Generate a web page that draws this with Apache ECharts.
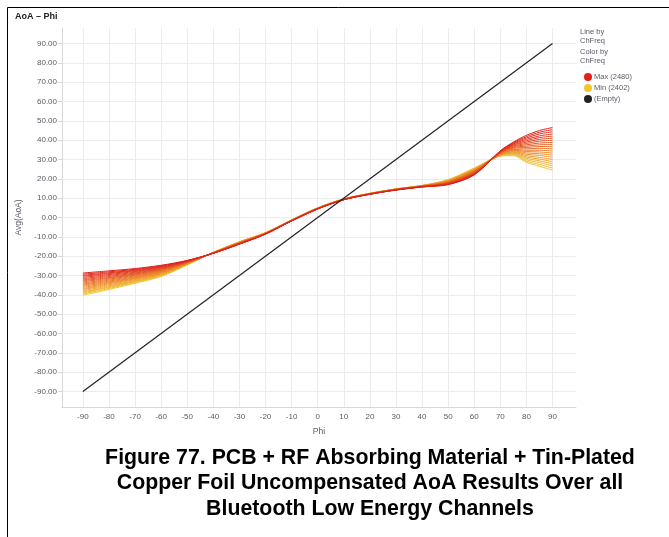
<!DOCTYPE html>
<html>
<head>
<meta charset="utf-8">
<script src="https://cdn.jsdelivr.net/npm/echarts@6/dist/echarts.min.js"></script>
<style>
  html, body { margin: 0; padding: 0; background: #fff; }
  #chart { width: 669px; height: 537px; }
</style>
</head>
<body>
<div id="chart"></div>
<script>
// Phi (deg) sample positions
const phi = [-90, -80, -70, -60, -50, -40, -30, -20, -10, 0, 10, 20, 30, 40, 50, 60, 70, 75, 80, 85, 90]
const ticks = [-90, -80, -70, -60, -50, -40, -30, -20, -10, 0, 10, 20, 30, 40, 50, 60, 70, 80, 90]

// BLE channel frequencies (MHz) and Avg(AoA)
const chFreq = [2402, 2406, 2410, 2414, 2418, 2422, 2426, 2430, 2434, 2438, 2442,
  2446, 2450, 2454, 2458, 2462, 2466, 2470, 2474, 2478, 2480]
const aoa = [
  [-40.2, -37.2, -34.0, -30.5, -24.5, -18.0, -12.5, -7.8, -1.2, 5.0, 9.6, 12.5, 14.8, 16.6, 19.6, 25.6, 31.8, 32.0, 28.5, 26.5, 24.5],
  [-39.6, -36.7, -33.6, -30.2, -24.4, -18.0, -12.6, -7.8, -1.2, 5.0, 9.6, 12.5, 14.8, 16.6, 19.5, 25.4, 31.9, 32.4, 29.2, 27.4, 25.6],
  [-39.0, -36.2, -33.2, -29.9, -24.3, -18.1, -12.6, -7.9, -1.3, 5.0, 9.6, 12.5, 14.7, 16.5, 19.3, 25.2, 32.1, 32.7, 29.9, 28.4, 26.7],
  [-38.5, -35.8, -32.9, -29.6, -24.2, -18.1, -12.7, -7.9, -1.3, 4.9, 9.5, 12.4, 14.7, 16.5, 19.2, 25.1, 32.2, 33.1, 30.6, 29.3, 27.8],
  [-37.9, -35.3, -32.5, -29.3, -24.0, -18.1, -12.8, -8.0, -1.3, 4.9, 9.5, 12.4, 14.7, 16.4, 19.1, 24.9, 32.3, 33.4, 31.3, 30.2, 28.9],
  [-37.3, -34.8, -32.1, -29.1, -23.9, -18.1, -12.8, -8.0, -1.4, 4.9, 9.5, 12.4, 14.7, 16.4, 18.9, 24.7, 32.5, 33.8, 32.0, 31.1, 30.0],
  [-36.8, -34.3, -31.7, -28.8, -23.8, -18.2, -12.9, -8.0, -1.4, 4.8, 9.5, 12.4, 14.6, 16.4, 18.8, 24.5, 32.6, 34.1, 32.7, 32.1, 31.1],
  [-36.2, -33.8, -31.3, -28.5, -23.7, -18.2, -13.0, -8.1, -1.4, 4.8, 9.5, 12.3, 14.6, 16.3, 18.7, 24.3, 32.7, 34.5, 33.4, 33.0, 32.2],
  [-35.6, -33.4, -31.0, -28.2, -23.6, -18.2, -13.0, -8.1, -1.4, 4.8, 9.4, 12.3, 14.6, 16.3, 18.6, 24.2, 32.9, 34.8, 34.1, 33.9, 33.3],
  [-35.0, -32.9, -30.6, -27.9, -23.5, -18.2, -13.1, -8.2, -1.5, 4.7, 9.4, 12.3, 14.5, 16.2, 18.4, 24.0, 33.0, 35.2, 34.8, 34.8, 34.4],
  [-34.5, -32.4, -30.2, -27.6, -23.4, -18.3, -13.2, -8.2, -1.5, 4.7, 9.4, 12.3, 14.5, 16.2, 18.3, 23.8, 33.2, 35.5, 35.5, 35.8, 35.5],
  [-33.9, -31.9, -29.8, -27.3, -23.2, -18.3, -13.2, -8.2, -1.5, 4.7, 9.4, 12.2, 14.5, 16.2, 18.2, 23.6, 33.3, 35.9, 36.2, 36.7, 36.6],
  [-33.3, -31.4, -29.4, -27.0, -23.1, -18.3, -13.3, -8.3, -1.5, 4.6, 9.4, 12.2, 14.4, 16.1, 18.0, 23.4, 33.4, 36.2, 36.9, 37.6, 37.7],
  [-32.7, -31.0, -29.1, -26.7, -23.0, -18.3, -13.3, -8.3, -1.6, 4.6, 9.3, 12.2, 14.4, 16.1, 17.9, 23.3, 33.6, 36.6, 37.6, 38.5, 38.8],
  [-32.2, -30.5, -28.7, -26.4, -22.9, -18.4, -13.4, -8.4, -1.6, 4.6, 9.3, 12.2, 14.4, 16.0, 17.8, 23.1, 33.7, 36.9, 38.3, 39.5, 39.9],
  [-31.6, -30.0, -28.3, -26.2, -22.8, -18.4, -13.5, -8.4, -1.6, 4.6, 9.3, 12.1, 14.4, 16.0, 17.6, 22.9, 33.8, 37.3, 39.0, 40.4, 41.0],
  [-31.0, -29.5, -27.9, -25.9, -22.7, -18.4, -13.5, -8.4, -1.7, 4.5, 9.3, 12.1, 14.3, 16.0, 17.5, 22.7, 34.0, 37.6, 39.7, 41.3, 42.1],
  [-30.4, -29.0, -27.5, -25.6, -22.5, -18.4, -13.6, -8.5, -1.7, 4.5, 9.3, 12.1, 14.3, 15.9, 17.4, 22.5, 34.1, 38.0, 40.4, 42.2, 43.2],
  [-29.9, -28.6, -27.2, -25.3, -22.4, -18.5, -13.7, -8.5, -1.7, 4.5, 9.2, 12.1, 14.3, 15.9, 17.3, 22.4, 34.2, 38.3, 41.1, 43.2, 44.3],
  [-29.3, -28.1, -26.8, -25.0, -22.3, -18.5, -13.7, -8.6, -1.8, 4.4, 9.2, 12.0, 14.2, 15.8, 17.1, 22.2, 34.4, 38.7, 41.8, 44.1, 45.4],
  [-28.7, -27.6, -26.4, -24.7, -22.2, -18.5, -13.8, -8.6, -1.8, 4.4, 9.2, 12.0, 14.2, 15.8, 17.0, 22.0, 34.5, 39.0, 42.5, 45.0, 46.5],
]
// reference line (Empty): AoA = Phi
const refLine = [-90, 90]

const YELLOW = [242, 198, 47]
const RED = [224, 32, 28]
function chColor(f) {
  const t = (f - chFreq[0]) / (chFreq[chFreq.length - 1] - chFreq[0])
  const c = YELLOW.map((y, i) => Math.round(y + (RED[i] - y) * t))
  return `rgb(${c[0]},${c[1]},${c[2]})`
}

const minF = chFreq[0]
const maxF = chFreq[chFreq.length - 1]

const series = chFreq.map((f, k) => ({
  name: f === maxF ? `Max (${f})` : f === minF ? `Min (${f})` : String(f),
  type: 'line',
  data: phi.map((p, i) => [p, aoa[k][i]]),
  showSymbol: false,
  smooth: 0.3,
  lineStyle: { width: 1, color: chColor(f) },
  itemStyle: { color: chColor(f) },
  z: 2 + k,
  silent: true,
}))
series.push({
  name: '(Empty)',
  type: 'line',
  data: refLine.map((v) => [v, v]),
  showSymbol: false,
  lineStyle: { width: 1.2, color: '#222' },
  itemStyle: { color: '#222' },
  z: 40,
  silent: true,
})

const axisText = { color: '#5a5a66', fontSize: 8, fontFamily: 'Arial, Liberation Sans' }

const option = {
  animation: false,
  backgroundColor: '#fff',
  grid: { left: 62, right: 93, top: 28, bottom: 130 },
  xAxis: {
    type: 'value',
    min: -98,
    max: 99,
    name: 'Phi',
    nameLocation: 'middle',
    nameGap: 20,
    nameTextStyle: { ...axisText, fontSize: 8.5 },
    axisLine: { show: true, onZero: false, lineStyle: { color: '#d8d8d8' } },
    axisTick: { show: false, customValues: ticks },
    axisLabel: { ...axisText, margin: 6, customValues: ticks },
    splitLine: { show: true, lineStyle: { color: '#ececec' } },
  },
  yAxis: {
    type: 'value',
    min: -98,
    max: 98,
    name: 'Avg(AoA)',
    nameLocation: 'middle',
    nameGap: 37,
    nameTextStyle: { ...axisText, fontSize: 8.5 },
    axisLine: { show: true, onZero: false, lineStyle: { color: '#d8d8d8' } },
    axisTick: { show: true, length: 4, lineStyle: { color: '#d8d8d8' }, customValues: ticks },
    axisLabel: { ...axisText, margin: 5, customValues: ticks, formatter: (v) => v.toFixed(2) },
    splitLine: { show: true, lineStyle: { color: '#ececec' } },
  },
  legend: {
    data: [`Max (${maxF})`, `Min (${minF})`, '(Empty)'],
    orient: 'vertical',
    left: 579,
    top: 68,
    icon: 'circle',
    itemWidth: 8,
    itemHeight: 8,
    itemGap: 3,
    textStyle: { ...axisText, fontSize: 7.5, padding: [0, 0, 0, -3] },
    selectedMode: false,
  },
  graphic: [
    { type: 'line', shape: { x1: 7.5, y1: 7.5, x2: 669, y2: 7.5 }, style: { stroke: '#000', lineWidth: 1 } },
    { type: 'line', shape: { x1: 7.5, y1: 7.5, x2: 7.5, y2: 537 }, style: { stroke: '#000', lineWidth: 1 } },
    { type: 'text', left: 15, top: 12, style: { text: 'AoA – Phi', font: 'bold 9px Arial, Liberation Sans', fill: '#222' } },
    { type: 'text', left: 580, top: 27, style: { text: 'Line by\nChFreq', font: '7.5px Arial, Liberation Sans', fill: '#5a5a66', lineHeight: 9 } },
    { type: 'text', left: 580, top: 47, style: { text: 'Color by\nChFreq', font: '7.5px Arial, Liberation Sans', fill: '#5a5a66', lineHeight: 9 } },
    {
      type: 'text', x: 370, y: 445,
      style: {
        text: 'Figure 77. PCB + RF Absorbing Material + Tin-Plated\nCopper Foil Uncompensated AoA Results Over all\nBluetooth Low Energy Channels',
        font: 'bold 21.3px Arial, Liberation Sans', fill: '#000', align: 'center', lineHeight: 25.5,
      },
    },
  ],
  series,
}

const dom = document.getElementById('chart')
const chart = echarts.init(dom)
chart.setOption(option)
</script>
</body>
</html>
